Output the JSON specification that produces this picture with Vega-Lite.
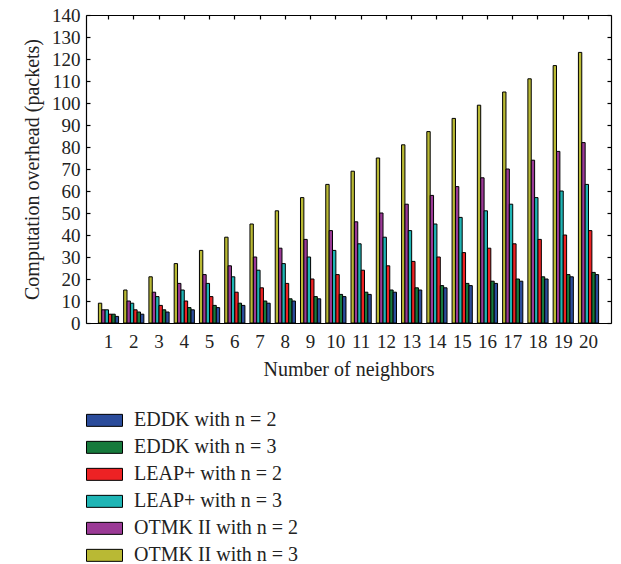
{
  "$schema": "https://vega.github.io/schema/vega-lite/v6.json",
  "width": 525,
  "height": 308,
  "autosize": {"type": "none"},
  "padding": {"left": 86, "top": 15, "right": 10, "bottom": 241},
  "background": "white",
  "config": {
    "font": "Liberation Serif",
    "view": {"stroke": null},
    "axis": {
      "labelFont": "Liberation Serif",
      "titleFont": "Liberation Serif",
      "labelColor": "#222",
      "titleColor": "#222",
      "domainColor": "#000",
      "tickColor": "#000",
      "domainWidth": 1.2,
      "tickWidth": 1.2,
      "grid": false,
      "titleFontWeight": "normal",
      "labelFontSize": 19,
      "titleFontSize": 20
    }
  },
  "datasets": {
    "rows": [
      {"k": 1, "series": "OTMK II with n = 3", "value": 9},
      {"k": 2, "series": "OTMK II with n = 3", "value": 15},
      {"k": 3, "series": "OTMK II with n = 3", "value": 21},
      {"k": 4, "series": "OTMK II with n = 3", "value": 27},
      {"k": 5, "series": "OTMK II with n = 3", "value": 33},
      {"k": 6, "series": "OTMK II with n = 3", "value": 39},
      {"k": 7, "series": "OTMK II with n = 3", "value": 45},
      {"k": 8, "series": "OTMK II with n = 3", "value": 51},
      {"k": 9, "series": "OTMK II with n = 3", "value": 57},
      {"k": 10, "series": "OTMK II with n = 3", "value": 63},
      {"k": 11, "series": "OTMK II with n = 3", "value": 69},
      {"k": 12, "series": "OTMK II with n = 3", "value": 75},
      {"k": 13, "series": "OTMK II with n = 3", "value": 81},
      {"k": 14, "series": "OTMK II with n = 3", "value": 87},
      {"k": 15, "series": "OTMK II with n = 3", "value": 93},
      {"k": 16, "series": "OTMK II with n = 3", "value": 99},
      {"k": 17, "series": "OTMK II with n = 3", "value": 105},
      {"k": 18, "series": "OTMK II with n = 3", "value": 111},
      {"k": 19, "series": "OTMK II with n = 3", "value": 117},
      {"k": 20, "series": "OTMK II with n = 3", "value": 123},
      {"k": 1, "series": "OTMK II with n = 2", "value": 6},
      {"k": 2, "series": "OTMK II with n = 2", "value": 10},
      {"k": 3, "series": "OTMK II with n = 2", "value": 14},
      {"k": 4, "series": "OTMK II with n = 2", "value": 18},
      {"k": 5, "series": "OTMK II with n = 2", "value": 22},
      {"k": 6, "series": "OTMK II with n = 2", "value": 26},
      {"k": 7, "series": "OTMK II with n = 2", "value": 30},
      {"k": 8, "series": "OTMK II with n = 2", "value": 34},
      {"k": 9, "series": "OTMK II with n = 2", "value": 38},
      {"k": 10, "series": "OTMK II with n = 2", "value": 42},
      {"k": 11, "series": "OTMK II with n = 2", "value": 46},
      {"k": 12, "series": "OTMK II with n = 2", "value": 50},
      {"k": 13, "series": "OTMK II with n = 2", "value": 54},
      {"k": 14, "series": "OTMK II with n = 2", "value": 58},
      {"k": 15, "series": "OTMK II with n = 2", "value": 62},
      {"k": 16, "series": "OTMK II with n = 2", "value": 66},
      {"k": 17, "series": "OTMK II with n = 2", "value": 70},
      {"k": 18, "series": "OTMK II with n = 2", "value": 74},
      {"k": 19, "series": "OTMK II with n = 2", "value": 78},
      {"k": 20, "series": "OTMK II with n = 2", "value": 82},
      {"k": 1, "series": "LEAP+ with n = 3", "value": 6},
      {"k": 2, "series": "LEAP+ with n = 3", "value": 9},
      {"k": 3, "series": "LEAP+ with n = 3", "value": 12},
      {"k": 4, "series": "LEAP+ with n = 3", "value": 15},
      {"k": 5, "series": "LEAP+ with n = 3", "value": 18},
      {"k": 6, "series": "LEAP+ with n = 3", "value": 21},
      {"k": 7, "series": "LEAP+ with n = 3", "value": 24},
      {"k": 8, "series": "LEAP+ with n = 3", "value": 27},
      {"k": 9, "series": "LEAP+ with n = 3", "value": 30},
      {"k": 10, "series": "LEAP+ with n = 3", "value": 33},
      {"k": 11, "series": "LEAP+ with n = 3", "value": 36},
      {"k": 12, "series": "LEAP+ with n = 3", "value": 39},
      {"k": 13, "series": "LEAP+ with n = 3", "value": 42},
      {"k": 14, "series": "LEAP+ with n = 3", "value": 45},
      {"k": 15, "series": "LEAP+ with n = 3", "value": 48},
      {"k": 16, "series": "LEAP+ with n = 3", "value": 51},
      {"k": 17, "series": "LEAP+ with n = 3", "value": 54},
      {"k": 18, "series": "LEAP+ with n = 3", "value": 57},
      {"k": 19, "series": "LEAP+ with n = 3", "value": 60},
      {"k": 20, "series": "LEAP+ with n = 3", "value": 63},
      {"k": 1, "series": "LEAP+ with n = 2", "value": 4},
      {"k": 2, "series": "LEAP+ with n = 2", "value": 6},
      {"k": 3, "series": "LEAP+ with n = 2", "value": 8},
      {"k": 4, "series": "LEAP+ with n = 2", "value": 10},
      {"k": 5, "series": "LEAP+ with n = 2", "value": 12},
      {"k": 6, "series": "LEAP+ with n = 2", "value": 14},
      {"k": 7, "series": "LEAP+ with n = 2", "value": 16},
      {"k": 8, "series": "LEAP+ with n = 2", "value": 18},
      {"k": 9, "series": "LEAP+ with n = 2", "value": 20},
      {"k": 10, "series": "LEAP+ with n = 2", "value": 22},
      {"k": 11, "series": "LEAP+ with n = 2", "value": 24},
      {"k": 12, "series": "LEAP+ with n = 2", "value": 26},
      {"k": 13, "series": "LEAP+ with n = 2", "value": 28},
      {"k": 14, "series": "LEAP+ with n = 2", "value": 30},
      {"k": 15, "series": "LEAP+ with n = 2", "value": 32},
      {"k": 16, "series": "LEAP+ with n = 2", "value": 34},
      {"k": 17, "series": "LEAP+ with n = 2", "value": 36},
      {"k": 18, "series": "LEAP+ with n = 2", "value": 38},
      {"k": 19, "series": "LEAP+ with n = 2", "value": 40},
      {"k": 20, "series": "LEAP+ with n = 2", "value": 42},
      {"k": 1, "series": "EDDK with n = 3", "value": 4},
      {"k": 2, "series": "EDDK with n = 3", "value": 5},
      {"k": 3, "series": "EDDK with n = 3", "value": 6},
      {"k": 4, "series": "EDDK with n = 3", "value": 7},
      {"k": 5, "series": "EDDK with n = 3", "value": 8},
      {"k": 6, "series": "EDDK with n = 3", "value": 9},
      {"k": 7, "series": "EDDK with n = 3", "value": 10},
      {"k": 8, "series": "EDDK with n = 3", "value": 11},
      {"k": 9, "series": "EDDK with n = 3", "value": 12},
      {"k": 10, "series": "EDDK with n = 3", "value": 13},
      {"k": 11, "series": "EDDK with n = 3", "value": 14},
      {"k": 12, "series": "EDDK with n = 3", "value": 15},
      {"k": 13, "series": "EDDK with n = 3", "value": 16},
      {"k": 14, "series": "EDDK with n = 3", "value": 17},
      {"k": 15, "series": "EDDK with n = 3", "value": 18},
      {"k": 16, "series": "EDDK with n = 3", "value": 19},
      {"k": 17, "series": "EDDK with n = 3", "value": 20},
      {"k": 18, "series": "EDDK with n = 3", "value": 21},
      {"k": 19, "series": "EDDK with n = 3", "value": 22},
      {"k": 20, "series": "EDDK with n = 3", "value": 23},
      {"k": 1, "series": "EDDK with n = 2", "value": 3},
      {"k": 2, "series": "EDDK with n = 2", "value": 4},
      {"k": 3, "series": "EDDK with n = 2", "value": 5},
      {"k": 4, "series": "EDDK with n = 2", "value": 6},
      {"k": 5, "series": "EDDK with n = 2", "value": 7},
      {"k": 6, "series": "EDDK with n = 2", "value": 8},
      {"k": 7, "series": "EDDK with n = 2", "value": 9},
      {"k": 8, "series": "EDDK with n = 2", "value": 10},
      {"k": 9, "series": "EDDK with n = 2", "value": 11},
      {"k": 10, "series": "EDDK with n = 2", "value": 12},
      {"k": 11, "series": "EDDK with n = 2", "value": 13},
      {"k": 12, "series": "EDDK with n = 2", "value": 14},
      {"k": 13, "series": "EDDK with n = 2", "value": 15},
      {"k": 14, "series": "EDDK with n = 2", "value": 16},
      {"k": 15, "series": "EDDK with n = 2", "value": 17},
      {"k": 16, "series": "EDDK with n = 2", "value": 18},
      {"k": 17, "series": "EDDK with n = 2", "value": 19},
      {"k": 18, "series": "EDDK with n = 2", "value": 20},
      {"k": 19, "series": "EDDK with n = 2", "value": 21},
      {"k": 20, "series": "EDDK with n = 2", "value": 22}
    ]
  },
  "data": {"name": "rows"},
  "layer": [
    {
      "mark": {"type": "bar", "stroke": "#000", "strokeWidth": 1},
      "encoding": {
        "x": {
          "field": "k",
          "type": "ordinal",
          "scale": {"paddingInner": 0.2, "paddingOuter": 0.49},
          "axis": {
            "title": "Number of neighbors",
            "labelAngle": 0,
            "ticks": false,
            "labelPadding": 9,
            "titlePadding": 8
          }
        },
        "y": {
          "field": "value",
          "type": "quantitative",
          "scale": {"domain": [0, 140], "nice": false},
          "axis": {
            "title": "Computation overhead (packets)",
            "values": [0, 10, 20, 30, 40, 50, 60, 70, 80, 90, 100, 110, 120, 130, 140],
            "tickSize": -4,
            "labelPadding": 10,
            "titlePadding": 9
          }
        },
        "xOffset": {
          "field": "series",
          "type": "nominal",
          "scale": {
            "domain": ["OTMK II with n = 3", "OTMK II with n = 2", "LEAP+ with n = 3", "LEAP+ with n = 2", "EDDK with n = 3", "EDDK with n = 2"],
            "paddingInner": 0,
            "paddingOuter": 0
          }
        },
        "color": {
          "field": "series",
          "type": "nominal",
          "scale": {
            "domain": ["EDDK with n = 2", "EDDK with n = 3", "LEAP+ with n = 2", "LEAP+ with n = 3", "OTMK II with n = 2", "OTMK II with n = 3"],
            "range": ["#2b4c9b", "#177a3c", "#ed2224", "#1fb5b5", "#9b3a96", "#b9b934"]
          },
          "legend": {
            "orient": "none",
            "legendX": 0,
            "legendY": 392,
            "title": null,
            "padding": 0,
            "symbolType": "M-1,-0.333H1V0.333H-1Z",
            "symbolSize": 1296,
            "symbolStrokeColor": "#000",
            "symbolStrokeWidth": 1,
            "symbolOpacity": 1,
            "labelFont": "Liberation Serif",
            "labelFontSize": 20,
            "labelColor": "#222",
            "labelOffset": 11,
            "labelLimit": 400,
            "clipHeight": 26.7,
            "rowPadding": 0
          }
        }
      }
    },
    {
      "mark": {"type": "bar", "opacity": 0},
      "encoding": {
        "x": {
          "field": "k",
          "type": "ordinal",
          "scale": {"paddingInner": 0.2, "paddingOuter": 0.49},
          "axis": {"orient": "top", "labels": false, "title": null, "tickSize": -4}
        },
        "y": {
          "field": "value",
          "type": "quantitative",
          "scale": {"domain": [0, 140], "nice": false},
          "axis": {
            "orient": "right",
            "labels": false,
            "title": null,
            "values": [0, 10, 20, 30, 40, 50, 60, 70, 80, 90, 100, 110, 120, 130, 140],
            "tickSize": -4
          }
        }
      }
    }
  ],
  "resolve": {"axis": {"x": "independent", "y": "independent"}}
}
